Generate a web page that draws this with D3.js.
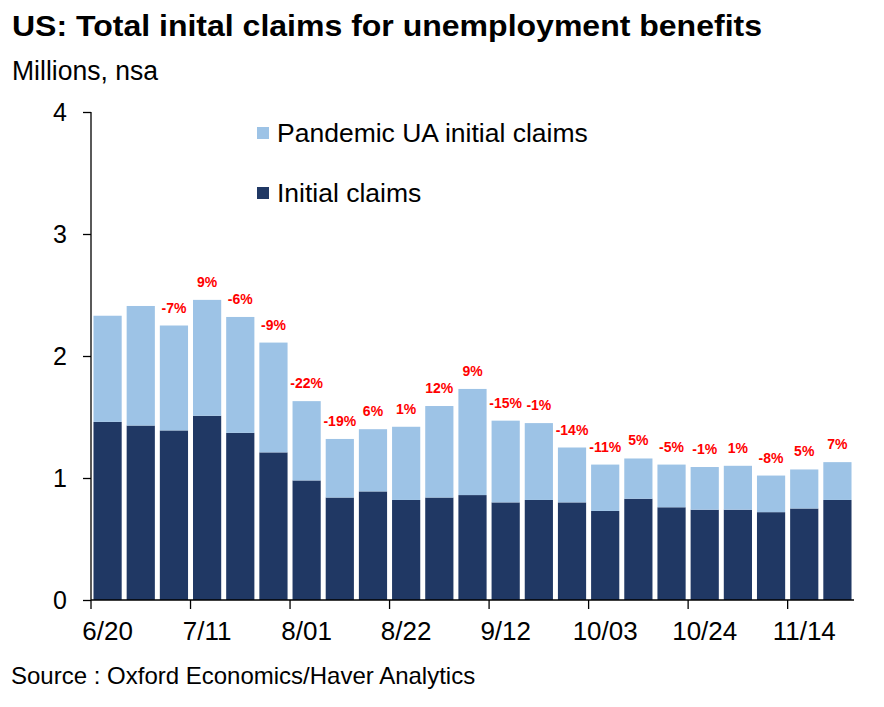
<!DOCTYPE html>
<html>
<head>
<meta charset="utf-8">
<script src="https://cdn.jsdelivr.net/npm/d3@7"></script>
<style>
  body { margin: 0; background: #fff; }
  text { font-family: "Liberation Sans", Arial, sans-serif; }
</style>
</head>
<body>
<svg id="chart" width="884" height="707"></svg>
<script>
const weeks = ["6/20", "6/27", "7/04", "7/11", "7/18", "7/25", "8/01", "8/08", "8/15", "8/22", "8/29", "9/05",
               "9/12", "9/19", "9/26", "10/03", "10/10", "10/17", "10/24", "10/31", "11/07", "11/14", "11/21"];
const initialClaims = [1.46, 1.43, 1.39, 1.51, 1.37, 1.21, 0.98, 0.84, 0.89, 0.82, 0.84, 0.86,
                       0.80, 0.82, 0.80, 0.73, 0.83, 0.76, 0.74, 0.74, 0.72, 0.75, 0.82];
const totalClaims = [2.33, 2.41, 2.25, 2.46, 2.32, 2.11, 1.63, 1.32, 1.40, 1.42, 1.59, 1.73,
                     1.47, 1.45, 1.25, 1.11, 1.16, 1.11, 1.09, 1.10, 1.02, 1.07, 1.13];
const pctChange = [null, null, -7, 9, -6, -9, -22, -19, 6, 1, 12, 9,
                   -15, -1, -14, -11, 5, -5, -1, 1, -8, 5, 7];
const yTicks = [0, 1, 2, 3, 4];
const labelledWeeks = ["6/20", "7/11", "8/01", "8/22", "9/12", "10/03", "10/24", "11/14"];

const lightBlue = "#9dc3e6", navy = "#203864";

const data = weeks.map((w, i) => ({
    week: w,
    initial: initialClaims[i],
    pua: totalClaims[i] - initialClaims[i],
    pct: pctChange[i]
}));

const svg = d3.select("#chart");
const plotLeft = 91, plotRight = 854, plotTop = 112, plotBottom = 600;

const x = d3.scaleBand()
    .domain(weeks)
    .range([plotLeft, plotRight])
    .paddingInner(0.15)
    .paddingOuter(0.075);
const y = d3.scaleLinear()
    .domain([0, 4])
    .range([plotBottom, plotTop]);

// stacked bars
const stack = d3.stack().keys(["initial", "pua"])(data);
const colors = { initial: navy, pua: lightBlue };

svg.append("g").selectAll("g")
    .data(stack)
    .enter().append("g")
    .attr("fill", d => colors[d.key])
    .selectAll("rect")
    .data(d => d)
    .enter().append("rect")
    .attr("x", d => x(d.data.week))
    .attr("width", x.bandwidth())
    .attr("y", d => y(d[1]))
    .attr("height", d => y(d[0]) - y(d[1]));

// % change labels
svg.append("g").selectAll("text")
    .data(data.filter(d => d.pct !== null))
    .enter().append("text")
    .attr("x", d => x(d.week) + x.bandwidth() / 2)
    .attr("y", d => y(d.initial + d.pua) - 13)
    .attr("text-anchor", "middle")
    .attr("font-size", 14)
    .attr("font-weight", "bold")
    .attr("fill", "#ff0000")
    .text(d => d.pct + "%");

// y axis
const yAxis = svg.append("g")
    .attr("transform", "translate(" + plotLeft + ",0)")
    .call(d3.axisLeft(y).tickValues(yTicks).tickSize(8).tickPadding(16).tickFormat(d3.format("d")));
yAxis.select(".domain").attr("d", "M0," + plotTop + "V" + plotBottom);
yAxis.selectAll("text").attr("font-size", 25).attr("fill", "#000").style("font-family", "Liberation Sans, Arial, sans-serif");
yAxis.selectAll("line, path").attr("stroke", "#000").attr("stroke-width", 1.3);

// x axis: labels centred under bars, ticks on band boundaries
const gap = x.step() - x.bandwidth();
const xAxis = svg.append("g")
    .attr("transform", "translate(0," + plotBottom + ")")
    .call(d3.axisBottom(x).tickValues(labelledWeeks).tickSize(0).tickPadding(22));
xAxis.select(".domain").attr("d", "M" + plotLeft + ",0H" + plotRight).attr("stroke", "#000").attr("stroke-width", 1.3);
xAxis.selectAll("text").attr("font-size", 26).attr("fill", "#000").style("font-family", "Liberation Sans, Arial, sans-serif");
xAxis.selectAll(".tick line").remove();
xAxis.append("g").selectAll("line")
    .data(labelledWeeks)
    .enter().append("line")
    .attr("x1", d => x(d) - gap / 2)
    .attr("x2", d => x(d) - gap / 2)
    .attr("y1", 0)
    .attr("y2", 9)
    .attr("stroke", "#000")
    .attr("stroke-width", 1.3);

// legend
const legendItems = [
    { label: "Pandemic UA initial claims", color: lightBlue },
    { label: "Initial claims", color: navy }
];
const legend = svg.append("g").selectAll("g")
    .data(legendItems)
    .enter().append("g")
    .attr("transform", (d, i) => "translate(257," + (127 + i * 60) + ")");
legend.append("rect").attr("width", 12).attr("height", 12).attr("fill", d => d.color);
legend.append("text")
    .attr("x", 20)
    .attr("y", 15)
    .attr("font-size", 26.5)
    .text(d => d.label);

// titles
svg.append("text")
    .attr("x", 12).attr("y", 36)
    .attr("font-size", 30)
    .attr("font-weight", "bold")
    .attr("textLength", 750)
    .attr("lengthAdjust", "spacingAndGlyphs")
    .text("US: Total inital claims for unemployment benefits");
svg.append("text")
    .attr("x", 12).attr("y", 80)
    .attr("font-size", 27)
    .attr("textLength", 146)
    .attr("lengthAdjust", "spacingAndGlyphs")
    .text("Millions, nsa");
svg.append("text")
    .attr("x", 11).attr("y", 684)
    .attr("font-size", 24)
    .text("Source : Oxford Economics/Haver Analytics");
</script>
</body>
</html>
